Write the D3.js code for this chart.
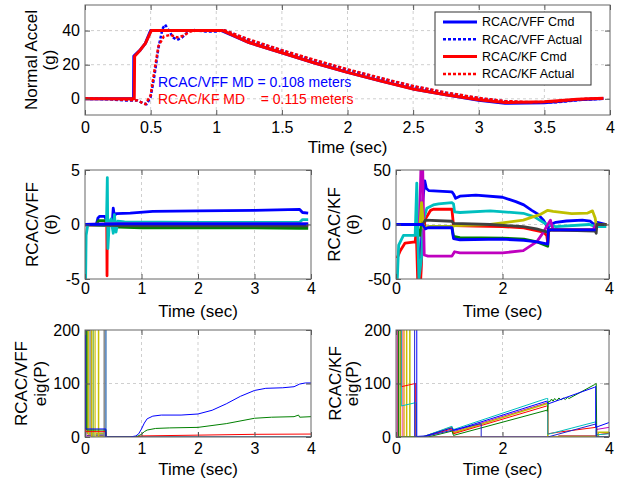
<!DOCTYPE html>
<html>
<head>
<meta charset="utf-8">
<script src="https://cdn.jsdelivr.net/npm/d3@7"></script>
<style>
  body { margin: 0; background: #fff; }
  svg { display: block; font-family: "Liberation Sans", Arial, sans-serif; }
</style>
</head>
<body>
<div id="chart"></div>
<script>
// ---- Data ----
// Top panel: normal acceleration (g) vs time (sec)
const accelTicksX = [0, 0.5, 1, 1.5, 2, 2.5, 3, 3.5, 4];
const accelTicksY = [0, 20, 40];
const vffCmd = [[0,0],[0.37,0],[0.372,25],[0.42,28.5],[0.46,32.5],[0.5,40],[1.04,40],[1.25,33],[1.5,27],[1.75,21],[2,15.5],[2.25,10.5],[2.5,5.8],[2.75,2.4],[3,-0.8],[3.2,-2.6],[3.5,-2.3],[3.75,-0.6],[3.95,0.2]];
const vffActual = [[0,0],[0.2,-0.3],[0.3,-1],[0.4,-1],[0.44,-2.5],[0.47,-3.2],[0.5,1],[0.53,14],[0.56,30],[0.59,41],[0.61,43.5],[0.64,40],[0.67,36],[0.7,34.5],[0.74,36],[0.78,39],[0.82,40.5],[0.86,40],[0.92,39.5],[1,39.5],[1.06,40.2],[1.25,34.5],[1.5,28.3],[1.75,22.5],[2,17],[2.25,12],[2.5,7.3],[2.75,3.5],[3,0.3],[3.2,-1.5],[3.4,-2.2],[3.6,-2],[3.8,-0.5],[3.95,0]];
const kfCmd = [[0,0],[0.375,0],[0.378,25],[0.42,28.5],[0.46,32.5],[0.505,40],[1.05,40],[1.25,33],[1.5,27],[1.75,21],[2,15.5],[2.25,10.5],[2.5,5.7],[2.75,2.3],[3,-0.6],[3.2,-2.2],[3.5,-1.8],[3.75,-0.2],[3.95,0.3]];
const kfActual = [[0,0.2],[0.15,0],[0.3,-0.6],[0.4,-1],[0.44,-2.5],[0.46,-3.2],[0.5,2],[0.53,17],[0.56,31],[0.6,36.5],[0.65,37.5],[0.7,36],[0.75,37],[0.8,39.5],[0.85,40],[1,40],[1.06,40.2],[1.25,34.8],[1.5,28.5],[1.75,22.8],[2,17.3],[2.25,12.3],[2.5,7.5],[2.75,3.7],[3,0.5],[3.2,-1.3],[3.4,-2],[3.6,-1.6],[3.8,0],[3.95,0.3]];
const legendLabels = ["RCAC/VFF Cmd", "RCAC/VFF Actual", "RCAC/KF Cmd", "RCAC/KF Actual"];
const missLabels = ["RCAC/VFF MD = 0.108 meters", "RCAC/KF MD    = 0.115 meters"];

// Middle left: RCAC/VFF theta
const vffThetaTicksX = [0, 1, 2, 3, 4];
const vffThetaTicksY = [-5, 0, 5];
const vffTheta = [
  [[0,0],[0.2,0],[0.23,0.6],[0.26,0.75],[0.35,0.75],[0.38,0.4],[0.4,0],[0.48,0],[0.5,1.5],[0.52,0.8],[0.55,1],[0.8,1.05],[1.2,1.2],[2,1.25],[3,1.3],[3.8,1.38],[3.85,1.1],[3.95,1.05]],
  [[0,0],[0.2,0],[0.24,0.35],[0.35,0.35],[0.4,0],[0.55,-0.1],[0.6,-0.25],[1,-0.3],[2,-0.3],[3,-0.3],[3.8,-0.35],[3.95,-0.35]],
  [[0,-0.05],[0.385,-0.05],[0.39,-4.7],[0.395,-0.1],[3.95,-0.1]],
  [[0.01,-5.5],[0.02,-1],[0.05,0],[0.35,-0.1],[0.38,0],[0.395,4.3],[0.405,-2.2],[0.43,0.2],[0.46,0.5],[0.5,-0.8],[0.52,0.9],[0.55,-0.7],[0.58,0.3],[0.7,0.25],[2,0.2],[3.8,0.2],[3.85,0.45],[3.95,0.45]],
  [[0,0],[0.4,0.05],[0.6,0.05],[3.95,0.05]],
  [[0,0],[0.6,-0.05],[3.95,-0.05]],
  [[0,0],[0.6,-0.1],[3.95,-0.12]],
  [[0,0],[0.6,0.05],[3.95,0.05]]
];

// Middle right: RCAC/KF theta
const kfThetaTicksX = [0, 2, 4];
const kfThetaTicksY = [-50, 0, 50];
const kfTheta = [
  [[0,0],[0.38,0],[0.39,5],[0.42,-20],[0.46,-50],[0.5,20],[0.54,40],[0.57,33],[0.62,31],[1.05,30],[1.08,28],[1.12,24],[1.2,26],[1.5,27],[2,25],[2.25,21],[2.4,18],[2.55,13],[2.65,10],[2.77,4],[2.85,-3],[2.9,0],[3,2],[3.2,3.2],[3.5,4],[3.65,3],[3.72,0],[3.78,2],[3.95,0]],
  [[0,0],[0.38,0],[0.45,-10],[0.5,10],[0.55,-3],[0.65,-2],[1.05,-2],[1.08,-11],[1.2,-12],[2,-12.5],[2.4,-13.5],[2.65,-16],[2.85,-20],[2.86,-5],[3.75,-5],[3.77,0],[3.95,0]],
  [[0.02,-31],[0.08,-24],[0.17,-17],[0.36,-16],[0.38,-5],[0.41,-55],[0.46,-55],[0.5,-10],[0.55,5],[0.6,9],[0.65,13],[0.7,14],[1.05,14],[1.08,-1],[1.5,-1.5],[2,-2],[2.4,-3],[2.77,-7],[2.83,-10],[2.85,-17],[2.87,-5],[3.75,-5],[3.77,0],[3.95,0]],
  [[0.02,-55],[0.05,-19],[0.14,-10],[0.36,-10],[0.39,38],[0.41,-10],[0.43,-50],[0.48,-30],[0.52,5],[0.58,15],[0.7,18],[0.8,19],[1.05,20],[1.08,19],[1.1,11.5],[1.2,11],[1.77,12.5],[2.39,10.3],[2.6,7],[2.83,0],[3,-2],[3.63,0],[3.75,-2],[3.95,-2]],
  [[0,0],[0.44,0],[0.47,55],[0.5,55],[0.53,-28],[0.6,-29],[1.05,-29],[1.1,-25],[1.2,-26],[1.5,-26],[2,-26],[2.39,-24],[2.64,-16],[2.77,-7],[2.85,0],[2.9,4],[2.95,-5],[3.7,-5],[3.75,0],[3.95,0]],
  [[0,0],[0.45,0],[0.48,20],[0.52,-3],[0.6,-2],[1.05,-2],[1.1,-1],[1.77,0],[2.39,4],[2.7,9],[2.85,13],[2.95,12],[3.3,10],[3.6,10.5],[3.69,12.5],[3.74,6],[3.76,0],[3.95,0]],
  [[0,0],[0.5,0],[0.55,4],[1.05,3],[1.08,1],[1.77,0],[2.39,-2],[2.64,-4],[2.85,-7],[2.9,-5],[3.74,-6],[3.76,-8],[3.77,0],[3.95,0]],
  [[0,0],[0.5,0],[0.55,-4],[0.6,-3],[1.05,-3],[1.08,-13],[1.2,-14],[2,-13.5],[2.4,-14.5],[2.65,-16],[2.85,-18],[2.86,-5],[3.75,-5]]
];

// Bottom left: RCAC/VFF eig(P)
const eigVffTicksX = [0, 1, 2, 3, 4];
const eigTicksY = [0, 100, 200];
const eigVff = [
  [[0,400],[0.005,400],[0.005,3],[0.37,3],[0.37,0],[4,0]],
  [[0,400],[0.02,400],[0.02,0],[4,0]],
  [[0,400],[0.04,400],[0.04,7],[0.37,7],[0.37,0],[4,0]],
  [[0,400],[0.06,400],[0.06,5],[0.37,5],[0.37,0],[4,0]],
  [[0,400],[0.09,400],[0.09,4],[0.37,4],[0.37,0],[4,0]],
  [[0,400],[0.12,400],[0.12,0],[4,0]],
  [[0,400],[0.15,400],[0.15,0],[4,0]],
  [[0,400],[0.18,400],[0.18,0],[4,0]],
  [[0,400],[0.24,400],[0.24,0],[4,0]],
  [[0,400],[0.34,400],[0.34,0],[4,0]],
  [[0,400],[0.37,400],[0.37,0],[4,0]],
  [[0,400],[0.01,400],[0.01,10],[0.37,10],[0.37,0],[0.9,0],[1,2],[2,3.5],[3,5],[4,5.5]],
  [[0,400],[0.03,400],[0.03,13],[0.37,13],[0.37,0],[0.9,0],[1,5],[1.05,10],[1.1,13],[1.25,16],[1.5,17],[2,18],[2.5,25],[3,35],[3.3,37],[3.7,38],[3.78,41],[3.8,37],[4,38]],
  [[0,400],[0.01,400],[0.01,15],[0.37,15],[0.37,0],[0.8,0],[0.9,2],[0.95,6],[1,15],[1.05,26],[1.1,34],[1.2,39],[1.35,41],[1.7,41],[2,43],[2.25,50],[2.5,62],[2.75,76],[3,87],[3.2,91],[3.5,92],[3.7,94],[3.8,99],[3.9,101],[4,101]]
];

// Bottom right: RCAC/KF eig(P)
const eigKfTicksX = [0, 2, 4];
const eigKf = [
  [[0,400],[0.02,400],[0.02,0],[0.5,0],[1.05,19],[1.08,10],[2.83,64],[2.85,64],[2.85,0],[3.76,0],[3.76,14],[4,18]],
  [[0,400],[0.04,400],[0.04,0],[3.05,0],[3.05,2],[3.77,2],[3.77,0],[4,0]],
  [[0,400],[0.08,400],[0.08,0],[0.5,0]],
  [[0,400],[0.12,400],[0.12,0],[0.5,0]],
  [[0,400],[0.15,400],[0.15,0],[0.5,0]],
  [[0,400],[0.2,400],[0.2,0],[0.5,0]],
  [[0,400],[0.26,400],[0.26,0],[0.5,0],[1.05,18],[1.08,8],[2.83,62],[2.85,62],[2.85,0],[3.8,0],[3.8,9],[4,9]],
  [[0,400],[0.1,400],[0.1,94],[0.36,100],[0.37,100],[0.37,0],[0.5,0],[1.05,15],[1.08,6],[2.83,58],[2.85,58],[2.85,6],[3.05,9],[3.75,18],[3.77,18],[3.77,4],[4,7]],
  [[0,400],[0.1,400],[0.1,58],[0.36,64],[0.38,64],[0.38,0],[0.5,0],[1.05,20],[1.08,14],[2.83,72],[2.85,72],[2.85,5],[3.74,28],[3.76,28],[3.76,4],[4,6]],
  [[0,400],[0.05,400],[0.05,0],[0.6,0],[1.05,11],[1.08,3],[2.83,50],[2.84,48],[2.86,66],[2.9,67],[2.92,71],[2.95,67],[2.98,72],[3.02,68],[3.06,73],[3.1,69],[3.14,73],[3.18,70],[3.22,74],[3.25,72],[3.73,98],[3.76,100],[3.77,0],[4,0]],
  [[0,400],[0.35,400],[0.35,0],[0.5,0],[1.6,25],[1.6,0],[2.85,0],[3.74,24],[3.76,24],[3.76,0],[4,0]],
  [[0,400],[0.39,400],[0.39,1],[0.55,2],[1.05,17],[1.08,12],[2.83,67],[2.86,62],[3.73,93],[3.75,95],[3.75,18],[4,27]]
];

// ---- Styles ----
const WIDTH = 621, HEIGHT = 485;
const BASIC = ["#0000ff", "#008000", "#ff0000", "#00bfbf", "#bf00bf", "#bfbf00", "#404040", "#0000ff"];
const EIG_VFF_COLORS = ["#7e2f8e", "#d070d0", "#77ac30", "#d4c21a", "#909090", "#c8b400", "#90c060", "#e0d040", "#c8c000", "#8a8a8a", "#4a7ebb", "#ff0000", "#008000", "#0000ff"];
const EIG_KF_COLORS = ["#bf00bf", "#a00000", "#b0b000", "#f080b0", "#e8a030", "#c8c000", "#bfbf00", "#ff0000", "#00bfbf", "#008000", "#2020d0", "#0000ff"];

const svg = d3.select("#chart").append("svg")
  .attr("width", WIDTH)
  .attr("height", HEIGHT);

function drawPanel(p) {
  const x = d3.scaleLinear().domain(p.xDomain).range([p.left, p.right]);
  const y = d3.scaleLinear().domain(p.yDomain).range([p.bottom, p.top]);
  const g = svg.append("g");

  // grid (dashed, interior ticks only)
  g.selectAll(".vgrid")
    .data(p.xTicks.filter(d => d > p.xDomain[0] && d < p.xDomain[1]))
    .join("line")
    .attr("x1", d => x(d)).attr("x2", d => x(d))
    .attr("y1", p.top).attr("y2", p.bottom)
    .attr("stroke", "#cfcfcf").attr("stroke-dasharray", "3,3");
  g.selectAll(".hgrid")
    .data(p.yTicks.filter(d => d > p.yDomain[0] && d < p.yDomain[1]))
    .join("line")
    .attr("x1", p.left).attr("x2", p.right)
    .attr("y1", d => y(d)).attr("y2", d => y(d))
    .attr("stroke", "#cfcfcf").attr("stroke-dasharray", "3,3");

  // clip
  const clipId = "clip-" + p.id;
  svg.append("clipPath").attr("id", clipId)
    .append("rect")
    .attr("x", p.left).attr("y", p.top)
    .attr("width", p.right - p.left).attr("height", p.bottom - p.top);

  const line = d3.line().x(d => x(d[0])).y(d => y(d[1]));
  g.append("g").attr("clip-path", `url(#${clipId})`)
    .selectAll("path")
    .data(p.series)
    .join("path")
    .attr("d", d => line(d.values))
    .attr("fill", "none")
    .attr("stroke", d => d.color)
    .attr("stroke-width", d => d.width)
    .attr("stroke-dasharray", d => d.dash || null)
    .attr("stroke-linejoin", "round");

  // axes with inward ticks on all four sides
  const fmt = d => String(d);
  const styleAxis = a => {
    a.select(".domain").remove();
    a.attr("font-family", null).attr("font-size", null);
    a.selectAll("line").attr("stroke", "#555");
    a.selectAll("text").attr("fill", "#000").style("font-size", "16px");
  };
  g.append("g").attr("transform", `translate(0,${p.bottom})`)
    .call(d3.axisBottom(x).tickValues(p.xTicks).tickFormat(fmt).tickSizeInner(-5).tickSizeOuter(0).tickPadding(p.xPad))
    .call(styleAxis);
  g.append("g").attr("transform", `translate(0,${p.top})`)
    .call(d3.axisTop(x).tickValues(p.xTicks).tickFormat("").tickSizeInner(-5).tickSizeOuter(0))
    .call(styleAxis);
  g.append("g").attr("transform", `translate(${p.left},0)`)
    .call(d3.axisLeft(y).tickValues(p.yTicks).tickFormat(fmt).tickSizeInner(-5).tickSizeOuter(0).tickPadding(5))
    .call(styleAxis);
  g.append("g").attr("transform", `translate(${p.right},0)`)
    .call(d3.axisRight(y).tickValues(p.yTicks).tickFormat("").tickSizeInner(-5).tickSizeOuter(0))
    .call(styleAxis);

  g.append("rect")
    .attr("x", p.left).attr("y", p.top)
    .attr("width", p.right - p.left).attr("height", p.bottom - p.top)
    .attr("fill", "none").attr("stroke", "#666");

  // labels
  g.append("text")
    .attr("x", (p.left + p.right) / 2).attr("y", p.bottom + 37.5)
    .attr("text-anchor", "middle").style("font-size", "17px")
    .text("Time (sec)");
  p.yLabel.forEach((t, i) => {
    g.append("text")
      .attr("transform", `translate(${p.yLabelX[i]},${(p.top + p.bottom) / 2}) rotate(-90)`)
      .attr("text-anchor", "middle").style("font-size", "17px")
      .text(t);
  });
  return { g, x, y };
}

// Top panel
const accelPanel = drawPanel({
  id: "accel", left: 85, right: 610, top: 5, bottom: 115,
  xDomain: [0, 4], yDomain: [-9.5, 55], xTicks: accelTicksX, yTicks: accelTicksY, xPad: 6.6,
  yLabel: ["Normal Accel", "(g)"], yLabelX: [37, 55],
  series: [
    { values: vffCmd, color: "#0000ff", width: 3 },
    { values: vffActual, color: "#0000ff", width: 2.5, dash: "3,2" },
    { values: kfCmd, color: "#ff0000", width: 3 },
    { values: kfActual, color: "#ff0000", width: 2.5, dash: "3,2" }
  ]
});

// miss distance annotations
accelPanel.g.selectAll(".md")
  .data(missLabels)
  .join("text")
  .attr("x", 158)
  .attr("y", (d, i) => 86.7 + i * 17.6)
  .attr("fill", (d, i) => i === 0 ? "#0000ff" : "#ff0000")
  .style("font-size", "14px")
  .style("white-space", "pre")
  .text(d => d);

// legend
const legendStyles = [
  { color: "#0000ff", width: 3 },
  { color: "#0000ff", width: 2.5, dash: "3,2" },
  { color: "#ff0000", width: 3 },
  { color: "#ff0000", width: 2.5, dash: "3,2" }
];
const legend = accelPanel.g.append("g");
legend.append("rect")
  .attr("x", 435).attr("y", 12).attr("width", 156).attr("height", 73)
  .attr("fill", "#fff").attr("stroke", "#333");
const items = legend.selectAll(".item").data(legendLabels).join("g")
  .attr("transform", (d, i) => `translate(0,${22 + i * 17.3})`);
items.append("line")
  .attr("x1", 443).attr("x2", 477)
  .attr("stroke", (d, i) => legendStyles[i].color)
  .attr("stroke-width", (d, i) => legendStyles[i].width)
  .attr("stroke-dasharray", (d, i) => legendStyles[i].dash || null);
items.append("text")
  .attr("x", 482).attr("dy", "0.35em")
  .style("font-size", "12.5px")
  .text(d => d);

// Middle panels
drawPanel({
  id: "vfftheta", left: 85, right: 311, top: 170, bottom: 279,
  xDomain: [0, 4], yDomain: [-5, 5], xTicks: vffThetaTicksX, yTicks: vffThetaTicksY, xPad: 3.6,
  yLabel: ["RCAC/VFF", "(\u03B8)"], yLabelX: [38, 57],
  series: vffTheta.map((v, i) => ({ values: v, color: BASIC[i], width: 2.8 }))
});
drawPanel({
  id: "kftheta", left: 396, right: 609, top: 170, bottom: 279,
  xDomain: [0, 4], yDomain: [-50, 50], xTicks: kfThetaTicksX, yTicks: kfThetaTicksY, xPad: 3.6,
  yLabel: ["RCAC/KF", "(\u03B8)"], yLabelX: [340, 359],
  series: kfTheta.map((v, i) => ({ values: v, color: BASIC[i], width: 2.8 }))
});

// Bottom panels
drawPanel({
  id: "eigvff", left: 85, right: 311, top: 330, bottom: 437,
  xDomain: [0, 4], yDomain: [0, 200], xTicks: eigVffTicksX, yTicks: eigTicksY, xPad: 5.6,
  yLabel: ["RCAC/VFF", "eig(P)"], yLabelX: [27, 46],
  series: eigVff.map((v, i) => ({ values: v, color: EIG_VFF_COLORS[i], width: i < 11 ? 1.5 : 1 }))
});
drawPanel({
  id: "eigkf", left: 396, right: 609, top: 330, bottom: 437,
  xDomain: [0, 4], yDomain: [0, 200], xTicks: eigKfTicksX, yTicks: eigTicksY, xPad: 5.6,
  yLabel: ["RCAC/KF", "eig(P)"], yLabelX: [341, 358],
  series: eigKf.map((v, i) => ({ values: v, color: EIG_KF_COLORS[i], width: (i >= 2 && i <= 6) ? 1.5 : 1 }))
});
</script>
</body>
</html>
